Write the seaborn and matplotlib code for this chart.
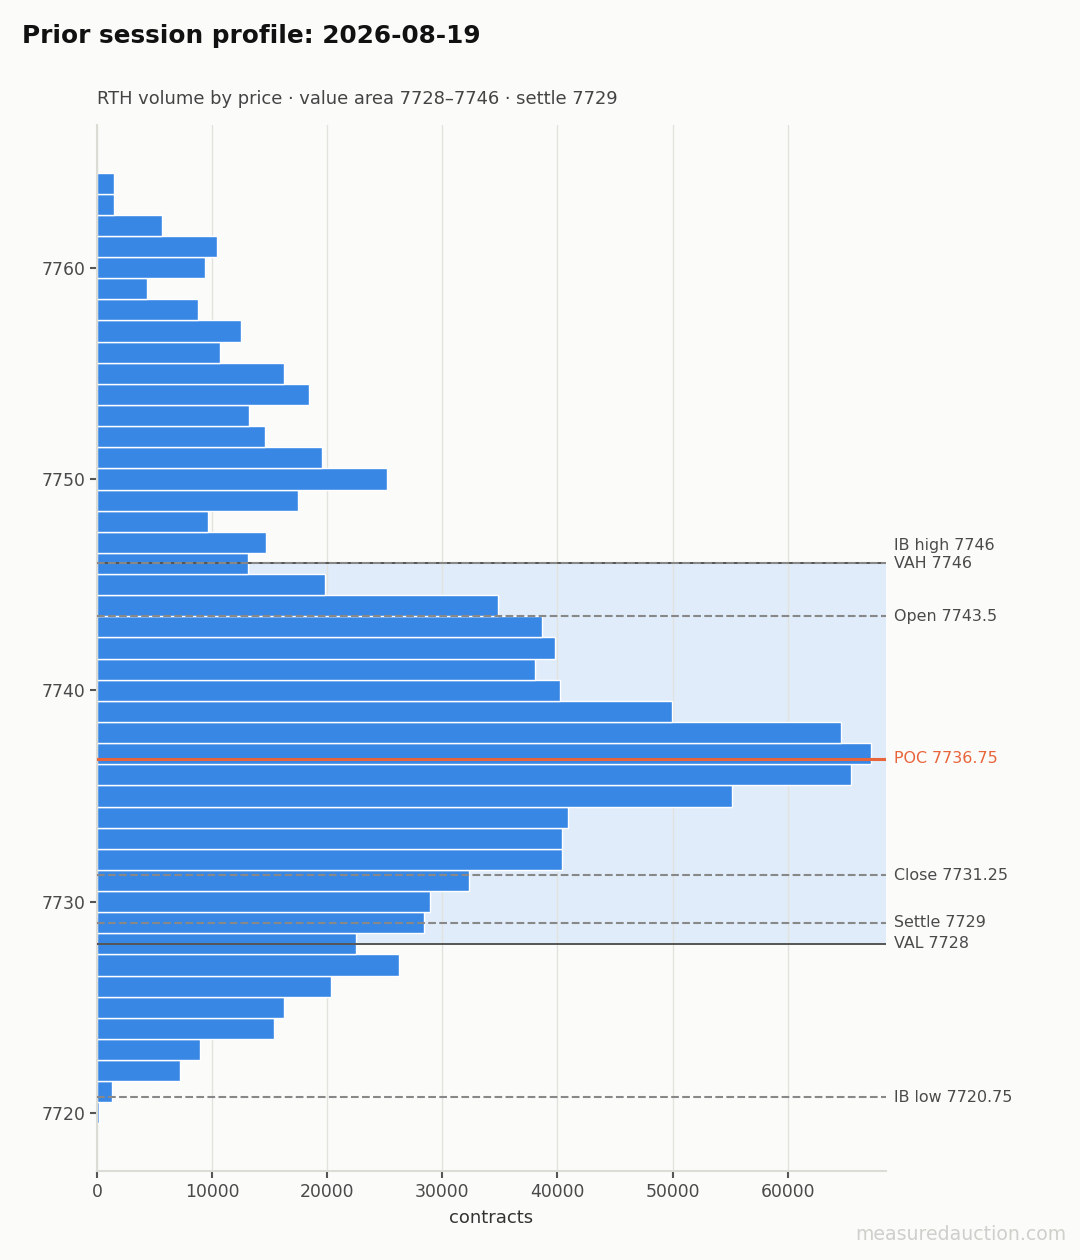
import numpy as np
import pandas as pd
import matplotlib
matplotlib.use("Agg")
import matplotlib.pyplot as plt
import matplotlib.transforms as mtransforms
import seaborn as sns

# data: volume per 1-point price bin, 7720 .. 7764
prices = list(range(7720, 7765))
volume = [150, 1330, 7190, 8910, 15370, 16210, 20340, 26200, 22490, 28400,
          28890, 32290, 40360, 40430, 40900, 55190, 65470, 67200, 64630, 49990,
          40180, 38090, 39830, 38630, 34860, 19800, 13100, 14650, 9635, 17448,
          25170, 19531, 14583, 13194, 18400, 16230, 10677, 12500, 8767, 4340,
          9375, 10417, 5642, 1450, 1450]

# reference levels (drawn in this order)
level_names = ["VAH", "VAL", "IB high", "Open", "Close", "Settle", "IB low", "POC"]
level_prices = [7746, 7728, 7746, 7743.5, 7731.25, 7729, 7720.75, 7736.75]
level_kind = ["va", "va", "ref", "ref", "ref", "ref", "ref", "poc"]
va_low, va_high = 7728, 7746

BG = "#fbfbf9"
BLUE = "#3987e5"
ORANGE = "#e8643a"
GREY_TXT = "#4a4a4a"

sns.set_theme(style="white", font="DejaVu Sans")
plt.rcParams.update({
    "figure.facecolor": BG,
    "axes.facecolor": BG,
    "font.family": "sans-serif",
    "font.sans-serif": ["DejaVu Sans"],
})

df = pd.DataFrame({"price": prices, "volume": volume})

fig = plt.figure(figsize=(10.8, 12.6), dpi=100)
ax = fig.add_axes([0.0898, 0.0706, 0.7306, 0.8302])

# value area band
ax.axhspan(va_low, va_high, color="#e0ecfa", zorder=0, lw=0)

sns.barplot(data=df, x="volume", y="price", orient="h", native_scale=True,
            color=BLUE, saturation=1, width=1, edgecolor="white", linewidth=1,
            ax=ax, zorder=2)
if ax.yaxis_inverted():
    ax.invert_yaxis()

ax.set_xlim(0, max(volume) * 1.02)

styles = {
    "ref": dict(color="#888888", lw=1.5, ls="--"),
    "va": dict(color="#555555", lw=1.4, ls="-"),
    "poc": dict(color=ORANGE, lw=2.2, ls="-"),
}
trans = mtransforms.blended_transform_factory(ax.transAxes, ax.transData)
for name, p, kind in zip(level_names, level_prices, level_kind):
    ax.axhline(p, zorder=3, **styles[kind])
    dy = 13 if name == "IB high" else 0
    ax.annotate(f"{name} {p:g}", xy=(1.0, p), xycoords=trans,
                xytext=(6, dy), textcoords="offset points",
                ha="left", va="center", fontsize=11.4,
                color=ORANGE if kind == "poc" else GREY_TXT,
                annotation_clip=False)

ax.grid(axis="x", color="#e2e2de", lw=1)
ax.grid(axis="y", visible=False)
ax.set_axisbelow(True)
for s in ["top", "right"]:
    ax.spines[s].set_visible(False)
for s in ["left", "bottom"]:
    ax.spines[s].set_color("#dcdcd6")
    ax.spines[s].set_linewidth(1.5)

ax.set_yticks([7720, 7730, 7740, 7750, 7760])
ax.tick_params(axis="both", which="major", length=5, width=1.5, color="#555555",
               labelsize=12.4, labelcolor=GREY_TXT, direction="out", left=True, bottom=True)
ax.set_xlabel("contracts", fontsize=13, color="#333333", labelpad=6)
ax.set_ylabel("")

ax.set_title("RTH volume by price \u00b7 value area 7728\u20137746 \u00b7 settle 7729",
             loc="left", fontsize=12.9, color="#444444", pad=15)
fig.text(0.0204, 0.9714, "Prior session profile: 2026-08-19", fontsize=17.8,
         fontweight="bold", color="#111111", ha="left", va="center")
fig.text(0.987, 0.0206, "measuredauction.com", fontsize=13.6, color="#cfcfcb",
         ha="right", va="center")

fig.savefig("out.png", dpi=100, facecolor=BG)
